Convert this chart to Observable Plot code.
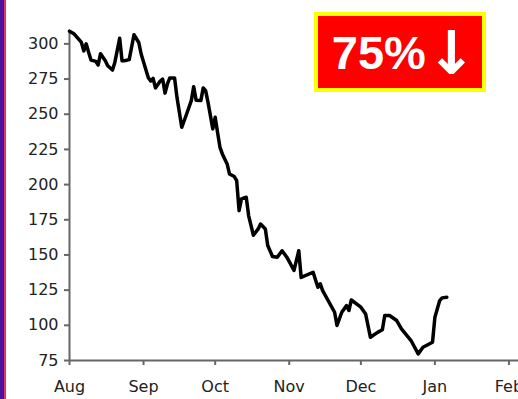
<!DOCTYPE html>
<html>
<head>
<meta charset="utf-8">
<script src="https://cdn.jsdelivr.net/npm/d3@7"></script>
<script src="https://cdn.jsdelivr.net/npm/@observablehq/plot@0.6"></script>
<style>
  html, body { margin: 0; padding: 0; background: #fff; }
  #wrap { position: relative; width: 518px; height: 399px; overflow: hidden; }
  #stripe { position: absolute; left: 0; top: 0; width: 4px; height: 399px; background: #4a10a0; border-right: 2px solid #e8305a; }
  #badge {
    position: absolute; left: 314px; top: 12px; width: 156px; height: 72px;
    background: #ff0000; border: 4px solid #ffff00;
    display: flex; align-items: center; justify-content: center;
    color: #fff; font-family: "Liberation Sans", Arial, sans-serif; font-weight: bold;
    font-size: 47px; line-height: 1; padding-left: 8px; box-sizing: content-box;
  }
  #badge .arrow { font-family: "DejaVu Sans", sans-serif; font-size: 60px; font-weight: bold; margin-left: 0px; position: relative; top: 1px; }
</style>
</head>
<body>
<div id="wrap">
  <div id="chart"></div>
  <div id="stripe"></div>
  <div id="badge"><span>75%</span><span class="arrow">↓</span></div>
</div>
<script>
const dates = [
  "2008-08-01","2008-08-03","2008-08-06","2008-08-07","2008-08-08","2008-08-09","2008-08-10",
  "2008-08-12","2008-08-13","2008-08-14","2008-08-16","2008-08-17","2008-08-19","2008-08-20",
  "2008-08-22","2008-08-23","2008-08-24","2008-08-26","2008-08-28","2008-08-30","2008-08-31",
  "2008-09-03","2008-09-04","2008-09-05","2008-09-06","2008-09-08","2008-09-09","2008-09-10",
  "2008-09-11","2008-09-12","2008-09-14","2008-09-15","2008-09-17","2008-09-19","2008-09-21",
  "2008-09-22","2008-09-23","2008-09-25","2008-09-26","2008-09-27","2008-09-28","2008-09-29",
  "2008-09-30","2008-10-01","2008-10-02","2008-10-03","2008-10-04","2008-10-06","2008-10-07",
  "2008-10-09","2008-10-10","2008-10-11","2008-10-12","2008-10-14","2008-10-15","2008-10-17",
  "2008-10-19","2008-10-20","2008-10-22","2008-10-23","2008-10-25","2008-10-27","2008-10-29",
  "2008-10-31","2008-11-03","2008-11-05","2008-11-06","2008-11-11","2008-11-13","2008-11-14",
  "2008-11-15","2008-11-20","2008-11-21","2008-11-23","2008-11-25","2008-11-26","2008-11-27",
  "2008-12-01","2008-12-03","2008-12-05","2008-12-08","2008-12-10","2008-12-11","2008-12-13",
  "2008-12-16","2008-12-18","2008-12-22","2008-12-25","2008-12-27","2008-12-31","2009-01-01",
  "2009-01-03","2009-01-04","2009-01-06"
];
const values = [
  309, 307, 301, 295, 300, 294, 288.5,
  287.6, 285, 293, 288, 284.5, 281.4, 287,
  304, 288, 288, 288.8, 306.5, 301, 292.8,
  276, 273.6, 275.5, 268.7, 273.6, 275, 265,
  271.5, 275.8, 275.8, 262, 240.7, 250, 259.7,
  269.6, 260, 259.7, 268.7, 266.8, 258.4, 249,
  239.6, 247.8, 237, 226.5, 221.8, 214.7, 207.5,
  205.7, 202.8, 181.5, 189.8, 191, 178, 164,
  168.5, 172, 168.5, 156.7, 148.9, 148.4, 153,
  148.4, 139, 153, 134, 137.7, 127, 129.5,
  124.7, 109.3, 99.9, 109.3, 114, 110.5, 118,
  112.9, 108, 91.5, 95, 96.8, 107, 107,
  103.4, 97.5, 89.2, 79.7, 84.4, 88, 105.8,
  117.6, 119.5, 120
];
const yTicks = [75, 100, 125, 150, 175, 200, 225, 250, 275, 300];
const monthTicks = ["2008-08-01","2008-09-01","2008-10-01","2008-11-01","2008-12-01","2009-01-01","2009-02-01"];

const data = dates.map((d, i) => ({date: new Date(d), value: values[i]}));
const xStart = new Date("2008-08-01");
const xEnd = new Date("2009-02-05");

const chart = Plot.plot({
  width: 518,
  height: 399,
  marginLeft: 69,
  marginRight: 0,
  marginTop: 30,
  marginBottom: 39,
  style: {fontFamily: "DejaVu Sans, sans-serif", fontSize: "16px", color: "#222", background: "transparent"},
  x: {type: "utc", domain: [xStart, xEnd]},
  y: {domain: [75, 309.5]},
  marks: [
    Plot.axisY({ticks: yTicks, tickSize: 5, tickPadding: 6, stroke: "#666", strokeWidth: 2, label: null, fill: "#222"}),
    Plot.axisX({ticks: monthTicks.map(d => new Date(d)), tickFormat: d3.utcFormat("%b"), tickSize: 5, tickPadding: 15, stroke: "#666", strokeWidth: 2, label: null, fill: "#222"}),
    Plot.ruleX([xStart], {stroke: "#666", strokeWidth: 2}),
    Plot.ruleY([75], {stroke: "#666", strokeWidth: 2}),
    Plot.line(data, {x: "date", y: "value", stroke: "#000", strokeWidth: 3.5, strokeLinejoin: "round"})
  ]
});
document.getElementById("chart").appendChild(chart);
</script>
</body>
</html>
